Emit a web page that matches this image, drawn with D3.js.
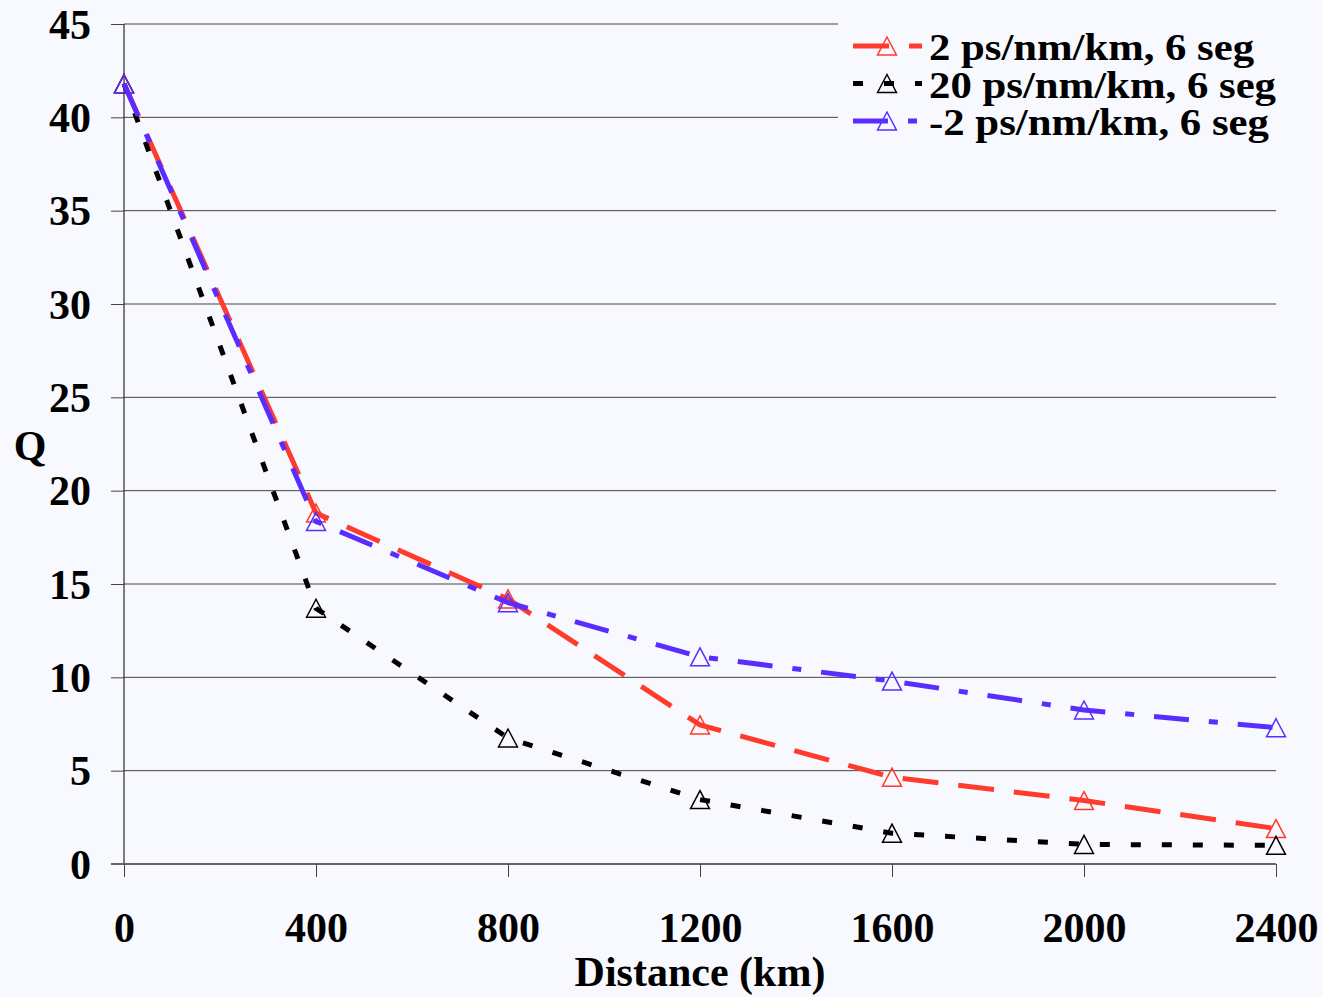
<!DOCTYPE html>
<html>
<head>
<meta charset="utf-8">
<script src="https://cdn.jsdelivr.net/npm/d3@7/dist/d3.min.js"></script>
<style>
	body { margin: 0; background: #f8f9fe; }
	svg { display: block; }
	text { font-family: "Liberation Serif", "Times New Roman", serif; font-weight: bold; fill: #000; }
</style>
</head>
<body>
<script>
var W = 1323, H = 997;

// data
var distances = [0, 400, 800, 1200, 1600, 2000, 2400];
var qRed = [41.8, 18.8, 14.2, 7.45, 4.65, 3.4, 1.9];
var qBlack = [41.8, 13.7, 6.75, 3.45, 1.65, 1.05, 1.0];
var qBlue = [41.8, 18.35, 14.0, 11.1, 9.8, 8.25, 7.3];
var seriesNames = ['2 ps/nm/km, 6 seg', '20 ps/nm/km, 6 seg', '-2 ps/nm/km, 6 seg'];
var xTicks = [0, 400, 800, 1200, 1600, 2000, 2400];
var yTicks = [0, 5, 10, 15, 20, 25, 30, 35, 40, 45];

var series = [
	{name: seriesNames[0], values: qRed, color: '#ff3b2e', dash: '36,20', width: 325},
	{name: seriesNames[1], values: qBlack, color: '#000000', dash: '10,21', width: 347},
	{name: seriesNames[2], values: qBlue, color: '#5a2dff', dash: '35,20,9,20', width: 340}
];

var svg = d3.select('body')
		.append('svg')
		.attr('width', W)
		.attr('height', H);

svg.append('rect')
	.attr('width', W)
	.attr('height', H)
	.attr('fill', '#f8f9fe');

var x = d3.scaleLinear()
	.domain([0, 2400])
	.range([124, 1276]);

var y = d3.scaleLinear()
	.domain([0, 45])
	.range([864, 24]);

// horizontal grid
svg.selectAll('line.grid')
	.data(yTicks.filter(function(d) { return d > 0; }))
	.enter().append('line')
	.attr('class', 'grid')
	.attr('x1', x(0))
	.attr('x2', x(2400))
	.attr('y1', function(d) { return y(d); })
	.attr('y2', function(d) { return y(d); })
	.attr('stroke', '#444')
	.attr('stroke-width', 1);

// y axis
var yAxis = svg.append('g')
	.attr('transform', 'translate(' + x(0) + ',0)')
	.call(d3.axisLeft(y).tickValues(yTicks).tickSize(13).tickPadding(20));
yAxis.select('.domain').attr('stroke', '#000').attr('d', 'M0,' + y(0) + 'V' + y(45));
yAxis.selectAll('.tick line').attr('stroke', '#444');
yAxis.selectAll('text')
	.attr('font-size', 42)
	.attr('font-family', null)
	.attr('fill', '#000')
	.attr('dy', '0.34em');

// x axis
var xAxis = svg.append('g')
	.attr('transform', 'translate(0,' + y(0) + ')')
	.call(d3.axisBottom(x).tickValues(xTicks).tickFormat(d3.format('d')).tickSize(13).tickSizeOuter(0));
xAxis.select('.domain').attr('stroke', '#666').attr('stroke-width', 2)
	.attr('d', 'M' + (x(0) - 13) + ',0H' + x(2400));
xAxis.selectAll('.tick line').attr('stroke', '#444');
xAxis.selectAll('text')
	.attr('font-size', 42)
	.attr('font-family', null)
	.attr('fill', '#000')
	.attr('y', 78)
	.attr('dy', 0);

svg.append('text')
	.attr('x', 30)
	.attr('y', 460)
	.attr('text-anchor', 'middle')
	.attr('font-size', 42)
	.text('Q');

svg.append('text')
	.attr('x', 700)
	.attr('y', 986)
	.attr('text-anchor', 'middle')
	.attr('font-size', 42)
	.text('Distance (km)');

function triangle(s) {
	return 'M0,' + (-s) + 'L' + (s * 1.05) + ',' + s + 'L' + (-s * 1.05) + ',' + s + 'Z';
}

var line = d3.line()
	.x(function(d, i) { return x(distances[i]); })
	.y(function(d) { return y(d); });

series.forEach(function(s) {
	var g = svg.append('g');
	g.append('path')
		.attr('d', line(s.values))
		.attr('fill', 'none')
		.attr('stroke', s.color)
		.attr('stroke-width', 5)
		.attr('stroke-dasharray', s.dash);
	g.selectAll('path.mk')
		.data(s.values)
		.enter().append('path')
		.attr('class', 'mk')
		.attr('transform', function(d, i) {
			return 'translate(' + x(distances[i]) + ',' + y(d) + ')';
		})
		.attr('d', triangle(9))
		.attr('fill', 'none')
		.attr('stroke', s.color)
		.attr('stroke-width', 1.5);
});

// legend
var legend = svg.append('g');
legend.append('rect')
	.attr('x', 838)
	.attr('y', 12)
	.attr('width', W - 838)
	.attr('height', 140)
	.attr('fill', '#f8f9fe');

var rows = legend.selectAll('g.row')
	.data(series)
	.enter().append('g')
	.attr('class', 'row')
	.attr('transform', function(d, i) { return 'translate(0,' + (46 + i * 37.5) + ')'; });

rows.append('line')
	.attr('x1', 853)
	.attr('x2', 922)
	.attr('stroke', function(d) { return d.color; })
	.attr('stroke-width', 5)
	.attr('stroke-dasharray', function(d) { return d.dash; });

rows.append('path')
	.attr('transform', 'translate(887,0)')
	.attr('d', triangle(9))
	.attr('fill', 'none')
	.attr('stroke', function(d) { return d.color; })
	.attr('stroke-width', 1.5);

rows.append('text')
	.attr('x', 929)
	.attr('y', 14)
	.attr('font-size', 37)
	.attr('textLength', function(d) { return d.width; })
	.attr('lengthAdjust', 'spacingAndGlyphs')
	.text(function(d) { return d.name; });
</script>
</body>
</html>
